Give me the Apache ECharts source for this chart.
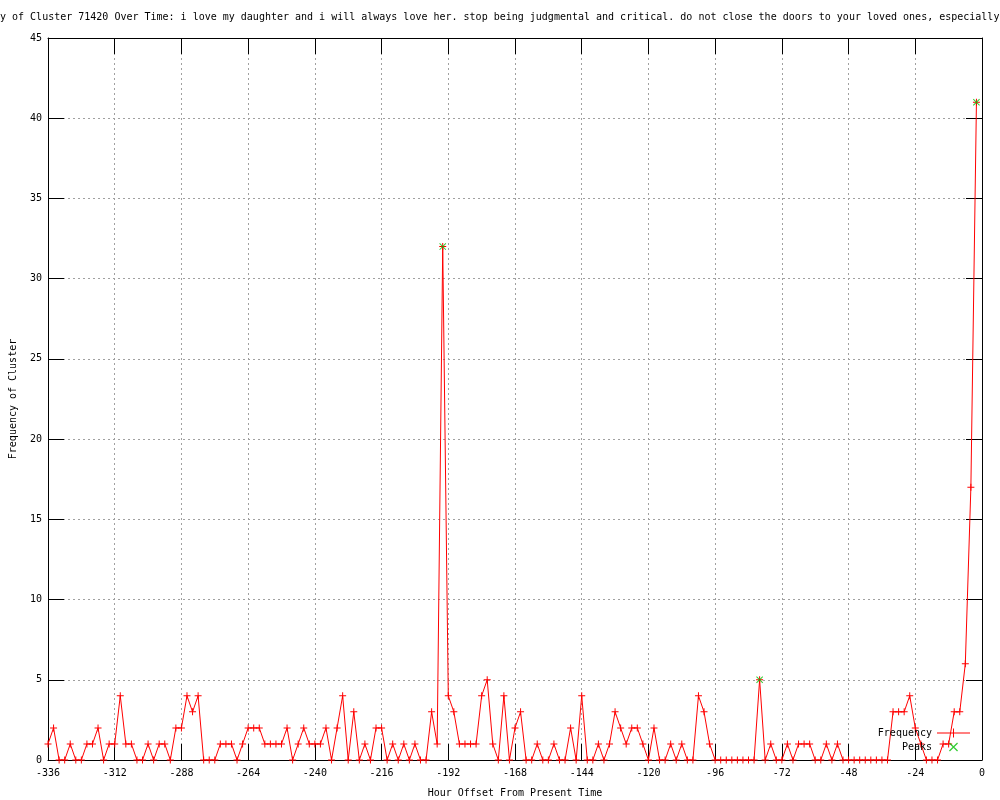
<!DOCTYPE html>
<html>
<head>
<meta charset="utf-8">
<title>Cluster 71420</title>
<script src="https://cdn.jsdelivr.net/npm/echarts@6/dist/echarts.min.js"></script>
<style>
  html, body { margin: 0; padding: 0; background: #fff; }
  #chart { width: 1000px; height: 800px; }
</style>
</head>
<body>
<div id="chart"></div>
<script>
// hour offsets, one point every 2 hours
const hours = [
  -336, -334, -332, -330, -328, -326, -324, -322, -320, -318, -316, -314,
  -312, -310, -308, -306, -304, -302, -300, -298, -296, -294, -292, -290,
  -288, -286, -284, -282, -280, -278, -276, -274, -272, -270, -268, -266,
  -264, -262, -260, -258, -256, -254, -252, -250, -248, -246, -244, -242,
  -240, -238, -236, -234, -232, -230, -228, -226, -224, -222, -220, -218,
  -216, -214, -212, -210, -208, -206, -204, -202, -200, -198, -196, -194,
  -192, -190, -188, -186, -184, -182, -180, -178, -176, -174, -172, -170,
  -168, -166, -164, -162, -160, -158, -156, -154, -152, -150, -148, -146,
  -144, -142, -140, -138, -136, -134, -132, -130, -128, -126, -124, -122,
  -120, -118, -116, -114, -112, -110, -108, -106, -104, -102, -100, -98,
  -96, -94, -92, -90, -88, -86, -84, -82, -80, -78, -76, -74,
  -72, -70, -68, -66, -64, -62, -60, -58, -56, -54, -52, -50,
  -48, -46, -44, -42, -40, -38, -36, -34, -32, -30, -28, -26,
  -24, -22, -20, -18, -16, -14, -12, -10, -8, -6, -4, -2
]
const frequency = [
  1, 2, 0, 0, 1, 0, 0, 1, 1, 2, 0, 1,
  1, 4, 1, 1, 0, 0, 1, 0, 1, 1, 0, 2,
  2, 4, 3, 4, 0, 0, 0, 1, 1, 1, 0, 1,
  2, 2, 2, 1, 1, 1, 1, 2, 0, 1, 2, 1,
  1, 1, 2, 0, 2, 4, 0, 3, 0, 1, 0, 2,
  2, 0, 1, 0, 1, 0, 1, 0, 0, 3, 1, 32,
  4, 3, 1, 1, 1, 1, 4, 5, 1, 0, 4, 0,
  2, 3, 0, 0, 1, 0, 0, 1, 0, 0, 2, 0,
  4, 0, 0, 1, 0, 1, 3, 2, 1, 2, 2, 1,
  0, 2, 0, 0, 1, 0, 1, 0, 0, 4, 3, 1,
  0, 0, 0, 0, 0, 0, 0, 0, 5, 0, 1, 0,
  0, 1, 0, 1, 1, 1, 0, 0, 1, 0, 1, 0,
  0, 0, 0, 0, 0, 0, 0, 0, 3, 3, 3, 4,
  2, 1, 0, 0, 0, 1, 1, 3, 3, 6, 17, 41
]
const peakHours = [-194, -80, -2]
const peakValues = [32, 5, 41]

const titleText = 'y of Cluster 71420 Over Time: i love my daughter and i will always love her. stop being judgmental and critical. do not close the doors to your loved ones, especially'

const monoFont = '"DejaVu Sans Mono", "Liberation Mono", monospace'
// plus and cross marks drawn as thin filled shapes
const plusMark = 'path://M0,3h7v1H0z M3,0h1v7H3z'
const crossMark = 'path://M0,0.7L0.7,0L7,6.3L6.3,7Z M6.3,0L7,0.7L0.7,7L0,6.3Z'
// legend sample: line with a plus in the middle
const lineSample = 'path://M0,4h33v1H0z M16,0h1v9h-1z'

const chart = echarts.init(document.getElementById('chart'))

const tickStyle = { show: true, inside: true, length: 16, lineStyle: { color: '#000', width: 1 } }
const borderLine = { show: true, onZero: false, lineStyle: { color: '#000', width: 1 } }
const gridLine = { show: true, lineStyle: { color: '#a0a0a0', type: [2, 3], width: 1 } }

const option = {
  animation: false,
  backgroundColor: '#fff',
  textStyle: { fontFamily: monoFont },
  title: {
    text: titleText,
    left: 0,
    top: 12,
    padding: 0,
    textStyle: { fontFamily: monoFont, fontSize: 10, fontWeight: 'normal', color: '#000' }
  },
  legend: {
    orient: 'vertical',
    right: 30,
    top: 728,
    align: 'right',
    padding: 0,
    itemWidth: 33,
    itemHeight: 9,
    itemGap: 4,
    textStyle: { fontFamily: monoFont, fontSize: 10, color: '#000' },
    data: [{ name: 'Frequency', icon: lineSample }, 'Peaks']
  },
  grid: { left: 48, right: 18, top: 38, bottom: 40, containLabel: false, outerBoundsMode: 'none' },
  xAxis: [
    {
      type: 'value',
      min: -336,
      max: 0,
      interval: 24,
      name: 'Hour Offset From Present Time',
      nameLocation: 'middle',
      nameGap: 28,
      nameTextStyle: { fontFamily: monoFont, fontSize: 10, color: '#000' },
      axisLine: borderLine,
      axisTick: tickStyle,
      axisLabel: { margin: 8, fontFamily: monoFont, fontSize: 10, color: '#000' },
      splitLine: gridLine
    },
    {
      type: 'value',
      position: 'top',
      min: -336,
      max: 0,
      interval: 24,
      axisLine: borderLine,
      axisTick: tickStyle,
      axisLabel: { show: false },
      splitLine: { show: false }
    }
  ],
  yAxis: [
    {
      type: 'value',
      min: 0,
      max: 45,
      interval: 5,
      name: 'Frequency of Cluster',
      nameLocation: 'middle',
      nameGap: 30,
      nameTextStyle: { fontFamily: monoFont, fontSize: 10, color: '#000' },
      axisLine: borderLine,
      axisTick: tickStyle,
      axisLabel: { margin: 6, fontFamily: monoFont, fontSize: 10, color: '#000' },
      splitLine: gridLine
    },
    {
      type: 'value',
      position: 'right',
      min: 0,
      max: 45,
      interval: 5,
      axisLine: borderLine,
      axisTick: tickStyle,
      axisLabel: { show: false },
      splitLine: { show: false }
    }
  ],
  series: [
    {
      name: 'Frequency',
      type: 'line',
      data: hours.map((h, i) => [h, frequency[i]]),
      symbol: plusMark,
      symbolSize: 7,
      showAllSymbol: true,
      clip: true,
      lineStyle: { color: '#ff0000', width: 1 },
      itemStyle: { color: '#ff0000' },
      z: 3
    },
    {
      name: 'Peaks',
      type: 'scatter',
      data: peakHours.map((h, i) => [h, peakValues[i]]),
      symbol: crossMark,
      symbolSize: 7,
      itemStyle: { color: '#00c000' },
      z: 4
    }
  ]
}

option && chart.setOption(option)
</script>
</body>
</html>
